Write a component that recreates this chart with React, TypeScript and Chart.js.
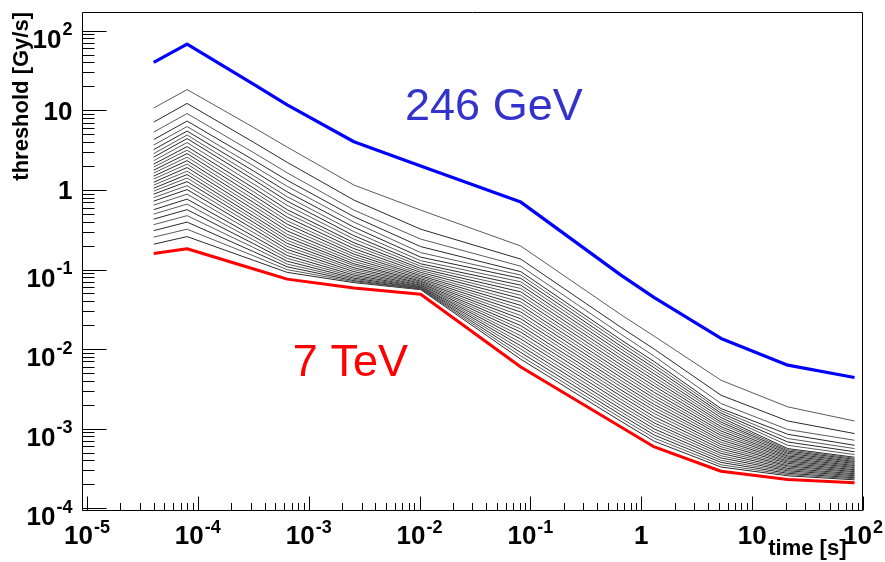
import { useEffect, useRef } from "react";
import { Chart, registerables } from "chart.js";

Chart.register(...registerables);

// Integration times of the twelve running sums [s]
const times = [4e-5, 8e-5, 3.2e-4, 6.4e-4, 2.56e-3, 1.024e-2, 8.192e-2, 0.65536, 1.31072, 5.24288, 20.97152, 83.88608];

// Threshold curves [Gy/s]
const threshold246GeV = [40.1, 68, 21.2, 11.7, 4.03, 1.99, 0.703, 0.085, 0.0443, 0.0136, 0.00628, 0.0044];
const threshold7TeV = [0.159, 0.182, 0.1016, 0.0757, 0.0587, 0.049, 0.00597, 0.00105, 0.00059, 0.000292, 0.00023, 0.00021];

// Intermediate energy levels, highest threshold first
const intermediateThresholds = [
  [10.7, 18.2, 6.07, 3.45, 1.15, 0.557, 0.197, 0.0271, 0.0145, 0.00406, 0.00188, 0.00125],
  [7.11, 12.2, 3.95, 2.22, 0.745, 0.321, 0.135, 0.0188, 0.00998, 0.00263, 0.00125, 0.000869],
  [5.33, 9.1, 2.93, 1.64, 0.557, 0.241, 0.11, 0.0154, 0.00814, 0.00207, 0.000976, 0.000716],
  [4.29, 7.33, 2.36, 1.32, 0.461, 0.194, 0.094, 0.0131, 0.00695, 0.00179, 0.000851, 0.000619],
  [3.66, 6.25, 1.99, 1.11, 0.394, 0.163, 0.0851, 0.012, 0.00635, 0.00168, 0.000752, 0.000563],
  [3.21, 5.48, 1.72, 0.946, 0.34, 0.143, 0.0774, 0.0109, 0.00582, 0.00157, 0.000681, 0.000513],
  [2.86, 4.89, 1.5, 0.821, 0.299, 0.129, 0.0701, 0.01, 0.00532, 0.00148, 0.000619, 0.000473],
  [2.58, 4.42, 1.34, 0.723, 0.266, 0.118, 0.0636, 0.00914, 0.00488, 0.00138, 0.000563, 0.000438],
  [2.33, 3.93, 1.18, 0.64, 0.241, 0.11, 0.0578, 0.00834, 0.00446, 0.00129, 0.000544, 0.000425],
  [2.11, 3.5, 1.05, 0.565, 0.217, 0.103, 0.0524, 0.00762, 0.00409, 0.00121, 0.000524, 0.000413],
  [1.94, 3.16, 0.944, 0.508, 0.2, 0.0973, 0.0475, 0.00697, 0.00374, 0.00114, 0.000506, 0.0004],
  [1.77, 2.86, 0.848, 0.455, 0.183, 0.092, 0.0432, 0.00635, 0.00343, 0.00106, 0.000489, 0.000388],
  [1.63, 2.58, 0.764, 0.409, 0.168, 0.0874, 0.0391, 0.00581, 0.00313, 0.000998, 0.00047, 0.000378],
  [1.49, 2.33, 0.69, 0.371, 0.156, 0.0834, 0.0354, 0.00529, 0.00286, 0.000934, 0.000454, 0.000367],
  [1.37, 2.11, 0.625, 0.336, 0.145, 0.08, 0.0322, 0.00484, 0.00262, 0.000876, 0.000439, 0.000355],
  [1.25, 1.91, 0.567, 0.305, 0.135, 0.0767, 0.0292, 0.00442, 0.0024, 0.000823, 0.000423, 0.000345],
  [1.15, 1.72, 0.514, 0.277, 0.126, 0.0739, 0.0264, 0.00403, 0.0022, 0.000769, 0.000408, 0.000335],
  [1.05, 1.56, 0.467, 0.254, 0.118, 0.0714, 0.024, 0.00368, 0.00201, 0.000722, 0.000393, 0.000326],
  [0.966, 1.41, 0.427, 0.232, 0.112, 0.0692, 0.0218, 0.00337, 0.00185, 0.000676, 0.00038, 0.000316],
  [0.885, 1.27, 0.389, 0.213, 0.105, 0.0672, 0.0197, 0.00307, 0.00169, 0.000634, 0.000367, 0.000306],
  [0.8, 1.13, 0.354, 0.195, 0.0995, 0.0655, 0.0179, 0.00281, 0.00155, 0.000593, 0.000353, 0.000298],
  [0.723, 1.01, 0.321, 0.179, 0.094, 0.0637, 0.0163, 0.00257, 0.00141, 0.000556, 0.000341, 0.000289],
  [0.644, 0.885, 0.29, 0.164, 0.0892, 0.0623, 0.0147, 0.00234, 0.00129, 0.00052, 0.00033, 0.000281],
  [0.565, 0.766, 0.26, 0.15, 0.0849, 0.061, 0.0134, 0.00214, 0.00118, 0.000489, 0.000317, 0.000272],
  [0.497, 0.663, 0.234, 0.138, 0.0811, 0.06, 0.0121, 0.00195, 0.00109, 0.000457, 0.000306, 0.000264],
  [0.43, 0.565, 0.21, 0.127, 0.0778, 0.059, 0.011, 0.00178, 0.000993, 0.000429, 0.000296, 0.000257],
  [0.366, 0.475, 0.188, 0.117, 0.075, 0.0581, 0.01, 0.00163, 0.00091, 0.000401, 0.000285, 0.000249],
  [0.308, 0.394, 0.167, 0.108, 0.0724, 0.0573, 0.00906, 0.00149, 0.000832, 0.000377, 0.000275, 0.000242],
  [0.255, 0.321, 0.148, 0.0995, 0.0703, 0.0565, 0.00821, 0.00136, 0.000761, 0.000352, 0.000265, 0.000235],
  [0.208, 0.259, 0.13, 0.092, 0.0684, 0.0558, 0.00746, 0.00124, 0.000695, 0.00033, 0.000256, 0.000228],
];

// Axis ranges and decade labels
const X_MIN = 9.02e-6;
const X_MAX = 100;
const Y_MIN = 9.25e-5;
const Y_MAX = 171.8;
const xTickExponents = [-5, -4, -3, -2, -1, 0, 1, 2];
const yTickExponents = [-4, -3, -2, -1, 0, 1, 2];

const X_TITLE = "time [s]";
const Y_TITLE = "threshold [Gy/s]";

// Curve captions, anchored in data coordinates
const captions = [
  { text: "246 GeV", t: 7.4e-3, value: 7.5, color: "#3333cc" },
  { text: "7 TeV", t: 7.2e-4, value: 4.56e-3, color: "#ff0000" },
];

const FONT = '"Liberation Sans", Arial, Helvetica, sans-serif';
const TICK_FONT = `bold 26px ${FONT}`;
const SUP_FONT = `bold 18px ${FONT}`;
const TITLE_FONT = `bold 22px ${FONT}`;
const CAPTION_FONT = `45px ${FONT}`;

function drawPowerLabel(
  ctx: CanvasRenderingContext2D,
  exp: number,
  px: number,
  py: number,
  mode: "x" | "y"
) {
  const base = exp === 0 ? "1" : "10";
  const sup = exp === 0 || exp === 1 ? "" : String(exp);
  ctx.font = TICK_FONT;
  const wb = ctx.measureText(base).width;
  ctx.font = SUP_FONT;
  const ws = sup ? ctx.measureText(sup).width + 1 : 0;
  const total = wb + ws;
  let x0: number;
  let baseY: number;
  let supY: number;
  if (mode === "y") {
    x0 = px - total;
    baseY = sup ? py + 17 : py + 9.3;
    supY = py + 4.5;
  } else {
    x0 = px - total / 2;
    baseY = py;
    supY = py - 11;
  }
  ctx.font = TICK_FONT;
  ctx.fillText(base, x0, baseY);
  if (sup) {
    ctx.font = SUP_FONT;
    ctx.fillText(sup, x0 + wb + 1, supY);
  }
}

// Frame, inward log ticks, superscript labels, titles and captions
const rootAxes = {
  id: "rootAxes",
  afterDatasetsDraw(chart: any) {
    const { ctx, chartArea: a, scales } = chart;
    const xs = scales.x;
    const ys = scales.y;
    const L = Math.round(a.left) + 0.5;
    const R = Math.round(a.right) - 0.5;
    const T = Math.round(a.top) + 0.5;
    const B = Math.round(a.bottom) - 0.5;

    ctx.save();
    ctx.strokeStyle = "#000";
    ctx.lineWidth = 1;
    ctx.beginPath();
    ctx.moveTo(L, T);
    ctx.lineTo(R, T);
    ctx.lineTo(R, B);
    ctx.lineTo(L, B);
    ctx.closePath();
    ctx.stroke();

    // y ticks
    ctx.beginPath();
    for (let e = -5; e <= 2; e++) {
      for (let m = 1; m <= 9; m++) {
        const v = m * Math.pow(10, e);
        if (v < ys.min || v > ys.max) continue;
        const py = Math.round(ys.getPixelForValue(v)) + 0.5;
        const len = m === 1 ? 24 : 12;
        ctx.moveTo(L, py);
        ctx.lineTo(L + len, py);
      }
    }
    // x ticks
    for (let e = -6; e <= 2; e++) {
      for (let m = 1; m <= 9; m++) {
        const v = m * Math.pow(10, e);
        if (v < xs.min || v > xs.max * 1.0001) continue;
        const px = Math.round(xs.getPixelForValue(v)) + 0.5;
        const len = m === 1 ? 14 : 7.5;
        ctx.moveTo(px, B);
        ctx.lineTo(px, B - len);
      }
    }
    ctx.stroke();

    ctx.fillStyle = "#000";
    ctx.textAlign = "left";
    ctx.textBaseline = "alphabetic";
    for (const e of yTickExponents) {
      drawPowerLabel(ctx, e, a.left - 9.5, ys.getPixelForValue(Math.pow(10, e)), "y");
    }
    for (const e of xTickExponents) {
      drawPowerLabel(ctx, e, xs.getPixelForValue(Math.pow(10, e)), a.bottom + 33, "x");
    }

    // axis titles
    ctx.font = TITLE_FONT;
    ctx.textAlign = "right";
    ctx.fillText(X_TITLE, a.right - 16.5, a.bottom + 43.5);
    ctx.save();
    ctx.translate(28, a.top);
    ctx.rotate(-Math.PI / 2);
    ctx.fillText(Y_TITLE, 0, 0);
    ctx.restore();

    // captions
    ctx.textAlign = "left";
    ctx.font = CAPTION_FONT;
    for (const c of captions) {
      ctx.fillStyle = c.color;
      ctx.fillText(c.text, xs.getPixelForValue(c.t), ys.getPixelForValue(c.value));
    }
    ctx.restore();
  },
};

const toPoints = (vals: number[]) => times.map((t, i) => ({ x: t, y: vals[i] }));

export default function App() {
  const canvasRef = useRef<HTMLCanvasElement>(null);

  useEffect(() => {
    const canvas = canvasRef.current;
    if (!canvas) return;
    const datasets: any[] = [
      { label: "246 GeV", data: toPoints(threshold246GeV), borderColor: "#0000ff", borderWidth: 3.2 },
      { label: "7 TeV", data: toPoints(threshold7TeV), borderColor: "#ff0000", borderWidth: 3 },
      ...intermediateThresholds.map((row, i) => ({
        label: `level ${i + 1}`,
        data: toPoints(row),
        borderColor: i % 2 === 0 ? "#5a5a5a" : "#2a2a2a",
        borderWidth: 1,
      })),
    ];
    const chart = new Chart(canvas, {
      type: "line",
      data: { datasets },
      options: {
        animation: false,
        responsive: false,
        devicePixelRatio: 1,
        layout: { padding: { left: 82, top: 12, right: 22, bottom: 51 } },
        scales: {
          x: { type: "logarithmic", display: false, min: X_MIN, max: X_MAX, bounds: "data" },
          y: { type: "logarithmic", display: false, min: Y_MIN, max: Y_MAX, bounds: "data" },
        },
        plugins: { legend: { display: false }, tooltip: { enabled: false } },
        elements: {
          point: { radius: 0 },
          line: { tension: 0, borderJoinStyle: "round", fill: false },
        },
      },
      plugins: [rootAxes],
    } as any);
    return () => chart.destroy();
  }, []);

  return (
    <div style={{ position: "fixed", left: 0, top: 0, width: 885, height: 562, background: "#fff" }}>
      <canvas ref={canvasRef} width={885} height={562} style={{ display: "block", width: 885, height: 562 }} />
    </div>
  );
}
